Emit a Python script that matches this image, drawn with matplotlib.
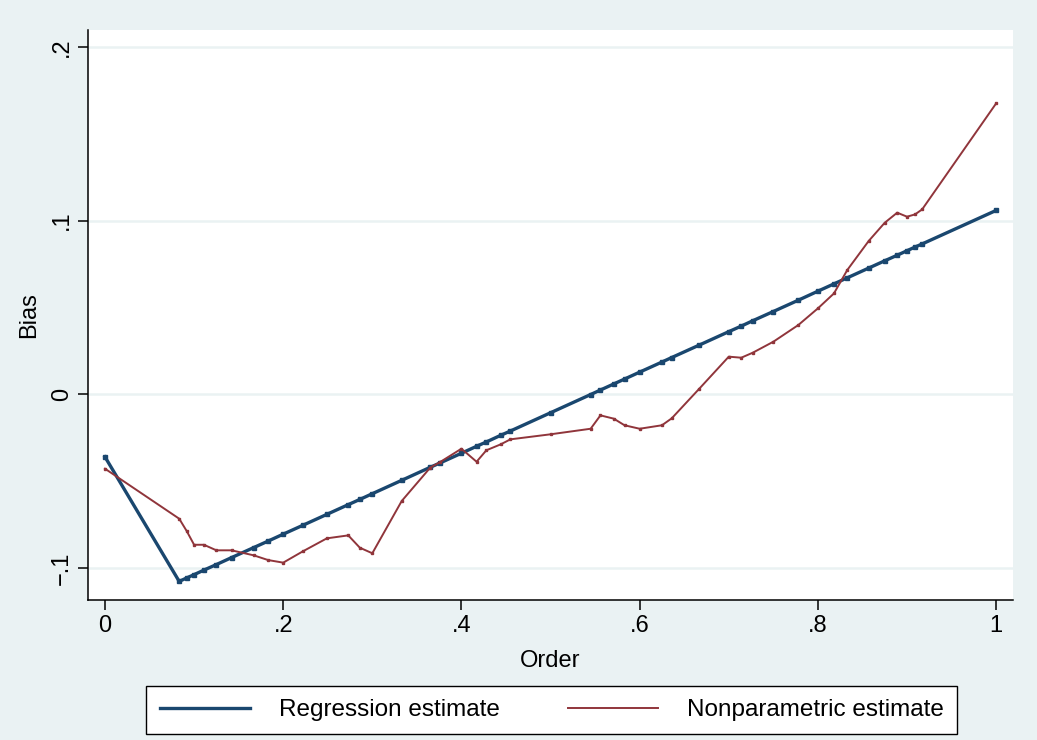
import matplotlib.pyplot as plt
import numpy as np

plt.rcParams['font.family'] = ['Liberation Sans', 'DejaVu Sans']

order = [0, 0.0833, 0.0917, 0.1, 0.111, 0.125, 0.142, 0.167, 0.183, 0.2,
         0.222, 0.249, 0.273, 0.286, 0.3, 0.333, 0.365, 0.376, 0.4, 0.417,
         0.428, 0.444, 0.455, 0.5, 0.545, 0.556, 0.571, 0.583, 0.6, 0.625,
         0.636, 0.667, 0.7, 0.714, 0.727, 0.75, 0.778, 0.8, 0.818, 0.833,
         0.857, 0.875, 0.889, 0.9, 0.909, 0.917, 1.0]

regression = [-0.036, -0.1077, -0.1057, -0.1038, -0.1012, -0.0980, -0.0940,
              -0.0882, -0.0845, -0.0805, -0.0754, -0.0691, -0.0635, -0.0605,
              -0.0572, -0.0495, -0.0420, -0.0395, -0.0339, -0.0299, -0.0274,
              -0.0236, -0.0211, -0.0106, -0.0001, 0.0025, 0.0060, 0.0088,
              0.0128, 0.0186, 0.0212, 0.0284, 0.0361, 0.0393, 0.0424, 0.0477,
              0.0542, 0.0594, 0.0636, 0.0671, 0.0727, 0.0769, 0.0801, 0.0827,
              0.0848, 0.0866, 0.1059]

nonparametric = [-0.0428, -0.0716, -0.0787, -0.0866, -0.0866, -0.0898, -0.0898,
                 -0.0927, -0.0954, -0.0969, -0.0904, -0.0829, -0.0812, -0.0883,
                 -0.0915, -0.0614, -0.0422, -0.0390, -0.0313, -0.0388, -0.0322,
                 -0.0288, -0.0259, -0.0230, -0.0198, -0.0121, -0.0140, -0.0178,
                 -0.0198, -0.0178, -0.0138, 0.0033, 0.0217, 0.0211, 0.0240,
                 0.0303, 0.0399, 0.0495, 0.0581, 0.0716, 0.0883, 0.0988, 0.1046,
                 0.1023, 0.1036, 0.1065, 0.1675]

xticks = [0, 0.2, 0.4, 0.6, 0.8, 1]
xticklabels = ['0', '.2', '.4', '.6', '.8', '1']
yticks = [-0.1, 0, 0.1, 0.2]
yticklabels = ['\u2212.1', '0', '.1', '.2']

bg = '#EAF2F3'
blue = '#1A476F'
red = '#90353B'

fig = plt.figure(figsize=(10.37, 7.4), dpi=100, facecolor=bg)
ax = fig.add_axes([0.0849, 0.1892, 0.892, 0.7703])
ax.set_facecolor('white')

ax.plot(order, regression, color=blue, lw=2.4, marker='s', ms=2.2,
        label='Regression estimate', zorder=3)
ax.plot(order, nonparametric, color=red, lw=1.4, marker='s', ms=1.6,
        label='Nonparametric estimate', zorder=4)

ax.set_xlim(-0.019, 1.019)
ax.set_ylim(-0.1184, 0.2098)
ax.set_xticks(xticks)
ax.set_xticklabels(xticklabels)
ax.set_yticks(yticks)
ax.set_yticklabels(yticklabels, rotation=90, va='center')
ax.yaxis.grid(True, color=bg, lw=1.8)
ax.set_axisbelow(True)

for s in ['top', 'right']:
    ax.spines[s].set_visible(False)
for s in ['left', 'bottom']:
    ax.spines[s].set_linewidth(1.1)
ax.tick_params(direction='out', length=7, width=1.1, labelsize=17, pad=4)

ax.set_xlabel('Order', fontsize=17, labelpad=9)
ax.set_ylabel('Bias', fontsize=17, labelpad=8)

leg = fig.legend(loc='center', bbox_to_anchor=(0.532, 0.0405), ncol=2,
                 fontsize=17.5, frameon=True, fancybox=False, handlelength=3.7,
                 columnspacing=2.8, borderpad=0.55, handletextpad=1.2,
                 framealpha=1)
leg.get_frame().set_edgecolor('black')
leg.get_frame().set_facecolor('white')
leg.get_frame().set_linewidth(1.0)
for h in leg.legend_handles:
    h.set_marker('')

fig.savefig('out.png', dpi=100, facecolor=bg)
